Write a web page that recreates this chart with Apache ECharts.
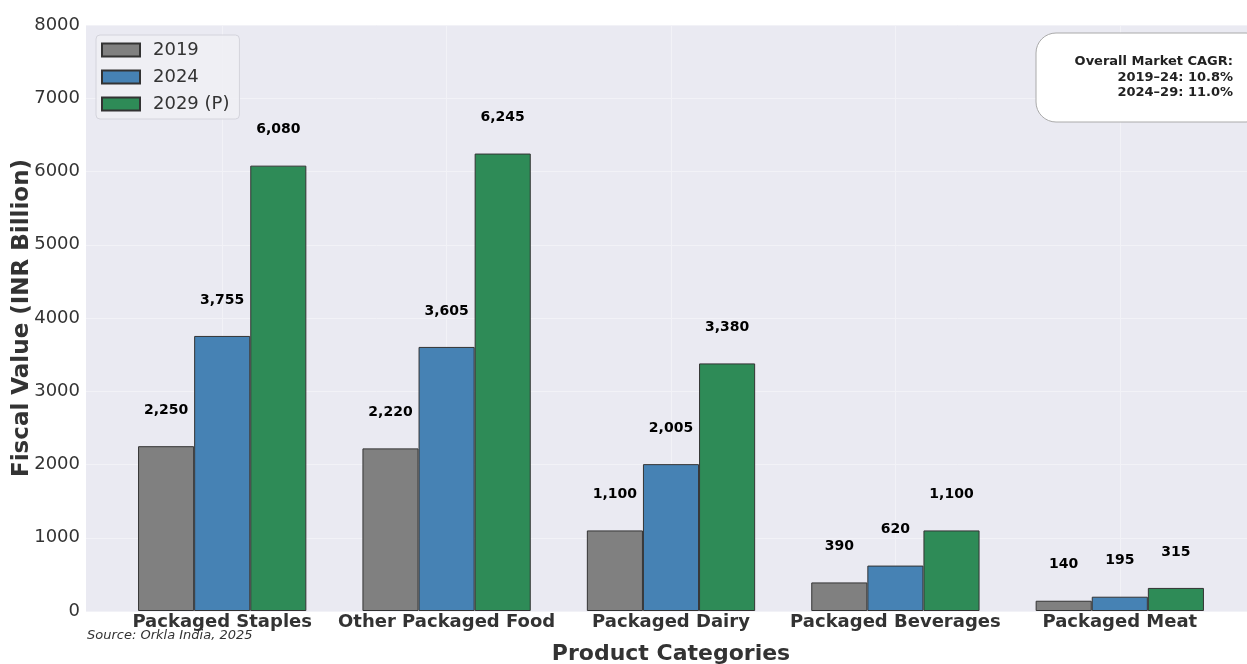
<!DOCTYPE html>
<html><head><meta charset="utf-8">
<script src="https://cdn.jsdelivr.net/npm/echarts@6/dist/echarts.min.js"></script>
<style>html,body{margin:0;padding:0;background:#fff}#c{width:1247px;height:664px}</style>
</head><body><div id="c"></div>
<script>
const categories = ['Packaged Staples', 'Other Packaged Food', 'Packaged Dairy', 'Packaged Beverages', 'Packaged Meat'];
const seriesNames = ['2019', '2024', '2029 (P)'];
const values2019 = [2250, 2220, 1100, 390, 140];
const values2024 = [3755, 3605, 2005, 620, 195];
const values2029 = [6080, 6245, 3380, 1100, 315];
const seriesColors = ['#808080', '#4682B4', '#2E8B57'];
const cagrLines = ['Overall Market CAGR:', '2019–24: 10.8%', '2024–29: 11.0%'];
const sourceText = 'Source: Orkla India, 2025';
const yMin = 0, yMax = 8000, yStep = 1000;

const FONT = 'DejaVu Sans';
const chart = echarts.init(document.getElementById('c'), null, {renderer: 'canvas'});
const allValues = [values2019, values2024, values2029];

const series = allValues.map((vals, i) => ({
  name: seriesNames[i],
  type: 'bar',
  xAxisIndex: 0, yAxisIndex: 0,
  data: vals,
  barGap: '0%',
  barCategoryGap: '25%',
  itemStyle: {color: seriesColors[i], borderColor: '#333', borderWidth: 1},
  label: {
    show: true, position: 'top', distance: 29,
    fontFamily: FONT, fontWeight: 'bold', fontSize: 14, color: '#000',
    formatter: p => p.value.toLocaleString('en-US')
  },
  emphasis: {disabled: true}
}));

chart.setOption({
  animation: false,
  textStyle: {fontFamily: FONT},
  grid: [
    {left: 110, right: 15, top: 25, bottom: 53, outerBoundsMode: 'none', containLabel: false},
    {left: 86, width: 1175, top: 25, bottom: 53, outerBoundsMode: 'none', containLabel: false,
     show: true, backgroundColor: '#EAEAF2', borderWidth: 0}
  ],
  legend: {
    data: seriesNames,
    orient: 'vertical',
    left: 96, top: 35,
    itemWidth: 38, itemHeight: 13, itemGap: 9,
    padding: [6, 10, 6, 5],
    backgroundColor: 'rgba(240,240,245,0.85)',
    borderColor: '#d4d4dc', borderWidth: 1, borderRadius: 4,
    textStyle: {fontFamily: FONT, fontSize: 18, lineHeight: 17, color: '#333', padding: [0, 0, 0, 8]},
    icon: 'rect'
  },
  xAxis: [
    {
      type: 'category', gridIndex: 0, data: categories,
      axisLine: {show: false}, axisTick: {show: false},
      axisLabel: {fontFamily: FONT, fontWeight: 'bold', fontSize: 18, color: '#333', margin: 2, interval: 0},
      splitLine: {show: true, alignWithLabel: true, lineStyle: {color: '#F2F2F7', width: 1}},
      name: 'Product Categories', nameLocation: 'middle', nameGap: 32, nameMoveOverlap: false,
      nameTextStyle: {fontFamily: FONT, fontWeight: 'bold', fontSize: 22, color: '#333'}
    },
    {type: 'value', gridIndex: 1, show: false, min: 0, max: 1}
  ],
  yAxis: [
    {type: 'value', gridIndex: 0, min: yMin, max: yMax, interval: yStep, show: false},
    {
      type: 'value', gridIndex: 1, min: yMin, max: yMax, interval: yStep,
      axisLine: {show: false}, axisTick: {show: false},
      axisLabel: {fontFamily: FONT, fontSize: 18, color: '#333', margin: 6, formatter: v => String(v)},
      splitLine: {show: true, lineStyle: {color: '#F2F2F7', width: 1}},
      name: 'Fiscal Value (INR Billion)', nameLocation: 'middle', nameGap: 52, nameMoveOverlap: false,
      nameTextStyle: {fontFamily: FONT, fontWeight: 'bold', fontSize: 23, color: '#333'}
    }
  ],
  graphic: [
    {
      type: 'rect', x: 1036, y: 33, z: 10,
      shape: {width: 230, height: 89, r: 20},
      style: {fill: '#fff', stroke: '#aaa', lineWidth: 1}
    },
    {
      type: 'text', x: 1233, y: 54, z: 11,
      style: {
        text: cagrLines.join('\n'), fontFamily: FONT, fontWeight: 'bold', fontSize: 13,
        fill: '#222', align: 'right', verticalAlign: 'top', lineHeight: 15.5
      }
    },
    {
      type: 'text', x: 87, y: 629, z: 11,
      style: {text: sourceText, fontFamily: FONT, fontStyle: 'italic', fontSize: 13, fill: '#333', verticalAlign: 'top'}
    }
  ],
  series: series
});
</script></body></html>
